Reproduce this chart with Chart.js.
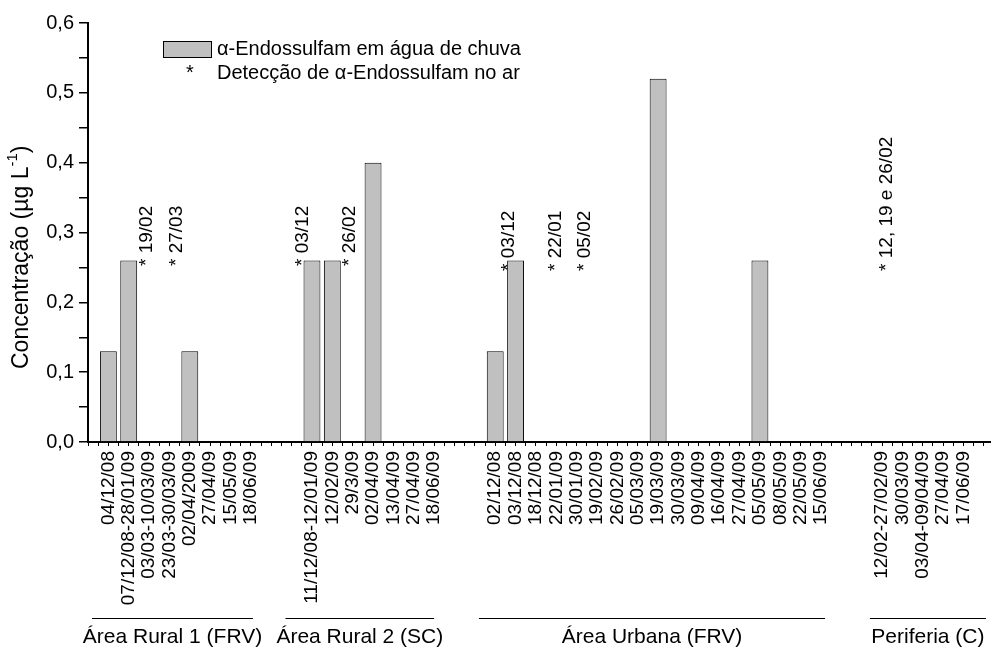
<!DOCTYPE html>
<html>
<head>
<meta charset="utf-8">
<script src="https://cdn.jsdelivr.net/npm/chart.js@4.4.1/dist/chart.umd.min.js"></script>
<style>
  html, body { margin: 0; padding: 0; background: #fff; }
</style>
</head>
<body>
<canvas id="chart1" width="993" height="649"></canvas>
<script>
// sampling dates and concentrations per area
const rural1Dates = ['04/12/08', '07/12/08-28/01/09', '03/03-10/03/09', '23/03-30/03/09', '02/04/2009', '27/04/09', '15/05/09', '18/06/09'];
const rural1Values = [0.13, 0.26, 0, 0, 0.13, 0, 0, 0];

const rural2Dates = ['11/12/08-12/01/09', '12/02/09', '29/3/09', '02/04/09', '13/04/09', '27/04/09', '18/06/09'];
const rural2Values = [0.26, 0.26, 0, 0.40, 0, 0, 0];

const urbanDates = ['02/12/08', '03/12/08', '18/12/08', '22/01/09', '30/01/09', '19/02/09', '26/02/09', '05/03/09', '19/03/09',
    '30/03/09', '09/04/09', '16/04/09', '27/04/09', '05/05/09', '08/05/09', '22/05/09', '15/06/09'];
const urbanValues = [0.13, 0.26, 0, 0, 0, 0, 0, 0, 0.52, 0, 0, 0, 0, 0.26, 0, 0, 0];

const periferiaDates = ['12/02-27/02/09', '30/03/09', '03/04-09/04/09', '27/04/09', '17/06/09'];
const periferiaValues = [0, 0, 0, 0, 0];

const groupNames = ['Área Rural 1 (FRV)', 'Área Rural 2 (SC)', 'Área Urbana (FRV)', 'Periferia (C)'];

// air detections (text written above the bars)
const airNotes = ['* 19/02', '* 27/03', '* 03/12', '* 26/02', '* 03/12', '* 22/01', '* 05/02', '* 12, 19 e 26/02'];
const airNoteX = [1.9, 3.37, 9.53, 11.84, 19.67, 21.98, 23.4, 38.21];
const airNoteY = [0.252, 0.252, 0.252, 0.252, 0.245, 0.245, 0.245, 0.245];

// build positions: two empty slots between areas
const groups = [
    [rural1Dates, rural1Values],
    [rural2Dates, rural2Values],
    [urbanDates, urbanValues],
    [periferiaDates, periferiaValues]
];
const xLabels = [];
const barData = [];
let pos = 0;
groups.forEach(([dates, values]) => {
    dates.forEach((d, i) => {
        xLabels[pos + i] = d;
        barData.push({ x: pos + i, y: values[i] });
    });
    pos += dates.length + 2;
});

// span of the underline for each area (in x units)
const groupLineSpan = [[-0.8, 7.1], [8.7, 16.0], [18.2, 35.2], [37.4, 43.1]];

const FONT = '"Liberation Sans", Arial, sans-serif';

const decor = {
    id: 'decor',
    afterDraw(chart) {
        const { ctx, scales: { x, y } } = chart;
        ctx.save();
        ctx.fillStyle = '#000';
        ctx.strokeStyle = '#000';

        // air detection notes
        ctx.font = '19px ' + FONT;
        ctx.textAlign = 'left';
        ctx.textBaseline = 'middle';
        airNotes.forEach((t, i) => {
            ctx.save();
            ctx.translate(x.getPixelForValue(airNoteX[i]), y.getPixelForValue(airNoteY[i]));
            ctx.rotate(-Math.PI / 2);
            ctx.fillText(t, 0, 0);
            ctx.restore();
        });

        // legend
        ctx.fillStyle = '#c0c0c0';
        ctx.fillRect(163, 41, 48, 16);
        ctx.lineWidth = 1;
        ctx.strokeRect(163.5, 41.5, 48, 16);
        ctx.fillStyle = '#000';
        ctx.font = '20px ' + FONT;
        ctx.fillText('\u03b1-Endossulfam em água de chuva', 217, 49);
        ctx.fillText('Detecção de \u03b1-Endossulfam no ar', 217, 73);
        ctx.textAlign = 'center';
        ctx.fillText('*', 190, 73);

        // area underlines and names
        ctx.font = '21px ' + FONT;
        ctx.lineWidth = 1;
        groupNames.forEach((name, i) => {
            const x0 = x.getPixelForValue(groupLineSpan[i][0]);
            const x1 = x.getPixelForValue(groupLineSpan[i][1]);
            ctx.beginPath();
            ctx.moveTo(x0, 618.5);
            ctx.lineTo(x1, 618.5);
            ctx.stroke();
            ctx.fillText(name, (x0 + x1) / 2, 637);
        });

        // y axis title with superscript
        ctx.save();
        ctx.translate(22, 369);
        ctx.rotate(-Math.PI / 2);
        ctx.textAlign = 'left';
        ctx.font = '23px ' + FONT;
        const main = 'Concentração (µg L';
        ctx.fillText(main, 0, 0);
        let w = ctx.measureText(main).width;
        ctx.font = '15px ' + FONT;
        ctx.fillText('-1', w, -9);
        w += ctx.measureText('-1').width;
        ctx.font = '23px ' + FONT;
        ctx.fillText(')', w, 0);
        ctx.restore();

        ctx.restore();
    }
};

const ctx1 = document.getElementById('chart1').getContext('2d');
const chart1 = new Chart(ctx1, {
    type: 'bar',
    data: {
        datasets: [{
            label: '\u03b1-Endossulfam em água de chuva',
            data: barData,
            backgroundColor: '#c0c0c0',
            borderColor: '#000',
            borderWidth: 1,
            // bar width is measured against the half-step tick spacing
            barPercentage: 1.66,
            categoryPercentage: 1
        }]
    },
    options: {
        responsive: false,
        animation: false,
        devicePixelRatio: 1,
        layout: { padding: { top: 23, right: 3, bottom: 0, left: 0 } },
        plugins: {
            legend: { display: false },
            tooltip: { enabled: false }
        },
        scales: {
            x: {
                type: 'linear',
                min: -1,
                max: 43.3,
                offset: false,
                grid: { drawOnChartArea: false, drawTicks: true, tickLength: 4, color: '#000', lineWidth: 1, offset: false },
                border: { color: '#000', width: 2 },
                ticks: {
                    stepSize: 0.5,
                    includeBounds: false,
                    autoSkip: false,
                    minRotation: 90,
                    maxRotation: 90,
                    padding: 5,
                    color: '#000',
                    font: { family: FONT, size: 19 },
                    callback: (v) => {
                        const k = Math.round(v);
                        if (Math.abs(v - k) > 1e-6) return '';
                        return xLabels[k] || '';
                    }
                },
                afterFit: (s) => { s.height = 207; s.paddingLeft = 0; s.paddingRight = 0; }
            },
            y: {
                min: 0,
                max: 0.6,
                grid: { drawOnChartArea: false, drawTicks: true, tickLength: 9, color: '#000', lineWidth: 1.5 },
                border: { color: '#000', width: 2 },
                ticks: {
                    stepSize: 0.05,
                    padding: 5,
                    color: '#000',
                    font: { family: FONT, size: 20 },
                    callback: (v) => {
                        const n = Math.round(v * 20);
                        if (n % 2 !== 0) return '';
                        return (n / 20).toFixed(1).replace('.', ',');
                    }
                },
                afterFit: (s) => { s.width = 88; s.paddingTop = 0; s.paddingBottom = 0; }
            }
        }
    },
    plugins: [decor]
});
</script>
</body>
</html>
